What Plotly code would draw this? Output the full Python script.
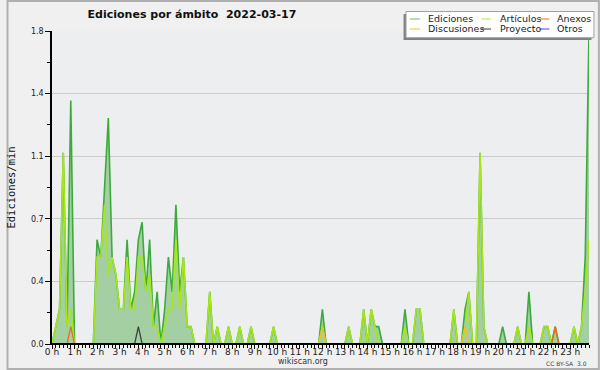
import numpy as np
import plotly.graph_objects as go

# ---------------- data (edits per minute, 10-minute slots, 0:00 .. 23:50) ----------------
hour_labels = [f"{h} h" for h in range(24)]

ediciones = [
    0, 0.1, 0.2, 1.1, 0.1, 1.4, 0, 0, 0, 0, 0, 0,
    0.6, 0.5, 0.9, 1.3, 0.5, 0.4, 0.2, 0.2, 0.6, 0.2, 0.3, 0.6,
    0.7, 0.3, 0.6, 0.1, 0.3, 0, 0.2, 0.5, 0.3, 0.8, 0.3, 0.5,
    0.1, 0.1, 0, 0, 0, 0, 0.3, 0, 0.1, 0, 0, 0.1,
    0, 0, 0.1, 0, 0, 0.1, 0, 0, 0, 0, 0, 0.1,
    0, 0, 0, 0, 0, 0, 0, 0, 0, 0, 0, 0,
    0.2, 0, 0, 0, 0, 0, 0, 0.1, 0, 0, 0, 0.2,
    0, 0.2, 0.1, 0.1, 0, 0, 0, 0, 0, 0, 0.2, 0,
    0, 0.2, 0.2, 0, 0, 0, 0, 0, 0, 0, 0, 0.2,
    0, 0, 0.2, 0.3, 0, 0, 1.1, 0.1, 0, 0, 0, 0,
    0.1, 0, 0, 0, 0.1, 0, 0, 0.3, 0, 0, 0, 0.1,
    0.1, 0, 0.1, 0, 0, 0, 0, 0.1, 0, 0.1, 0.5, 1.8,
]
articulos = [
    0, 0.1, 0.2, 1.1, 0.1, 0.2, 0, 0, 0, 0, 0, 0,
    0.5, 0.5, 0.8, 0.4, 0.5, 0.4, 0.2, 0.2, 0.5, 0.2, 0.2, 0.5,
    0.5, 0.3, 0.4, 0.1, 0.1, 0, 0.1, 0.2, 0.2, 0.6, 0.2, 0.5,
    0.1, 0.1, 0, 0, 0, 0, 0.3, 0, 0.1, 0, 0, 0.1,
    0, 0, 0.1, 0, 0, 0.1, 0, 0, 0, 0, 0, 0.1,
    0, 0, 0, 0, 0, 0, 0, 0, 0, 0, 0, 0,
    0.1, 0, 0, 0, 0, 0, 0, 0.1, 0, 0, 0, 0.2,
    0, 0.2, 0.1, 0, 0, 0, 0, 0, 0, 0, 0.1, 0,
    0, 0.2, 0.2, 0, 0, 0, 0, 0, 0, 0, 0, 0.2,
    0, 0, 0.1, 0.3, 0, 0, 1.1, 0.1, 0, 0, 0, 0,
    0, 0, 0, 0, 0.1, 0, 0, 0.1, 0, 0, 0, 0.1,
    0.1, 0, 0, 0, 0, 0, 0, 0.1, 0, 0.1, 0.3, 0.6,
]
anexos = [
    0, 0, 0, 0, 0, 0.1, 0, 0, 0, 0, 0, 0,
    0, 0, 0, 0, 0, 0, 0, 0, 0, 0, 0, 0,
    0, 0, 0, 0, 0, 0, 0, 0, 0, 0, 0, 0,
    0, 0, 0, 0, 0, 0, 0, 0, 0, 0, 0, 0,
    0, 0, 0, 0, 0, 0, 0, 0, 0, 0, 0, 0,
    0, 0, 0, 0, 0, 0, 0, 0, 0, 0, 0, 0,
    0, 0, 0, 0, 0, 0, 0, 0, 0, 0, 0, 0,
    0, 0, 0, 0, 0, 0, 0, 0, 0, 0, 0, 0,
    0, 0, 0, 0, 0, 0, 0, 0, 0, 0, 0, 0,
    0, 0, 0, 0, 0, 0, 0, 0, 0, 0, 0, 0,
    0, 0, 0, 0, 0, 0, 0, 0, 0, 0, 0, 0,
    0, 0, 0.1, 0, 0, 0, 0, 0, 0, 0, 0, 0,
]
discusiones = [
    0, 0, 0, 0, 0, 0, 0, 0, 0, 0, 0, 0,
    0, 0, 0, 0, 0, 0, 0, 0, 0, 0, 0, 0,
    0, 0, 0, 0, 0, 0, 0, 0, 0, 0, 0, 0,
    0, 0, 0, 0, 0, 0, 0, 0, 0, 0, 0, 0,
    0, 0, 0, 0, 0, 0, 0, 0, 0, 0, 0, 0,
    0, 0, 0, 0, 0, 0, 0, 0, 0, 0, 0, 0,
    0.1, 0, 0, 0, 0, 0, 0, 0, 0, 0, 0, 0,
    0, 0, 0, 0, 0, 0, 0, 0, 0, 0, 0, 0,
    0, 0, 0, 0, 0, 0, 0, 0, 0, 0, 0, 0,
    0, 0, 0.1, 0, 0, 0, 0, 0, 0, 0, 0, 0,
    0, 0, 0, 0, 0, 0, 0, 0, 0, 0, 0, 0,
    0, 0, 0, 0, 0, 0, 0, 0, 0, 0, 0, 0,
]
proyecto = [
    0, 0, 0, 0, 0, 0, 0, 0, 0, 0, 0, 0,
    0, 0, 0, 0, 0, 0, 0, 0, 0, 0, 0, 0.1,
    0, 0, 0, 0, 0, 0, 0, 0, 0, 0, 0, 0,
    0, 0, 0, 0, 0, 0, 0, 0, 0, 0, 0, 0,
    0, 0, 0, 0, 0, 0, 0, 0, 0, 0, 0, 0,
    0, 0, 0, 0, 0, 0, 0, 0, 0, 0, 0, 0,
    0, 0, 0, 0, 0, 0, 0, 0, 0, 0, 0, 0,
    0, 0, 0, 0, 0, 0, 0, 0, 0, 0, 0, 0,
    0, 0, 0, 0, 0, 0, 0, 0, 0, 0, 0, 0,
    0, 0, 0, 0, 0, 0, 0, 0, 0, 0, 0, 0,
    0, 0, 0, 0, 0, 0, 0, 0, 0, 0, 0, 0,
    0, 0, 0, 0, 0, 0, 0, 0, 0, 0, 0, 0,
]
otros = [0] * 144

y_tick_vals = [0, 0.36, 0.72, 1.08, 1.44, 1.8]
y_tick_text = ["0.0", "0.4", "0.7", "1.1", "1.4", "1.8"]

# ---------------- styling ----------------
FONT = "DejaVu Sans"
col_ed_line, col_ed_fill = "#3cab3c", "#a3cfa3"
col_art = "#a8e61c"
col_anx = "#f06a1e"
col_disc = "#f0c020"
col_proj = "#404040"
col_otros = "#9040e0"
legend_colors = {"Ediciones": "#80cc80", "Discusiones": "#f5cf40", "Artículos": "#c8ee50",
                 "Proyecto": "#555555", "Anexos": "#f08050", "Otros": "#9a50ee"}

W, H = 600, 370
ML, MR, MT, MB = 46, 11, 31, 26
PW, PH = W - ML - MR, H - MT - MB


def px(xp):
    return (xp - ML) / PW


def py(yp):
    return (H - MB - yp) / PH


times = np.arange(len(ediciones)) / 6.0  # hours

fig = go.Figure()
fig.add_trace(go.Scatter(x=times, y=ediciones, name="Ediciones", mode="lines",
                         line=dict(color=col_ed_line, width=1.6), fill="tozeroy",
                         fillcolor=col_ed_fill, showlegend=False))
fig.add_trace(go.Scatter(x=times, y=articulos, name="Artículos", mode="lines",
                         line=dict(color=col_art, width=1.6), showlegend=False))
fig.add_trace(go.Scatter(x=times, y=discusiones, name="Discusiones", mode="lines",
                         line=dict(color=col_disc, width=1.3), showlegend=False))
fig.add_trace(go.Scatter(x=times, y=proyecto, name="Proyecto", mode="lines",
                         line=dict(color=col_proj, width=1.3), showlegend=False))
fig.add_trace(go.Scatter(x=times, y=anexos, name="Anexos", mode="lines",
                         line=dict(color=col_anx, width=1.3), showlegend=False))
fig.add_trace(go.Scatter(x=times, y=otros, name="Otros", mode="lines",
                         line=dict(color=col_otros, width=1.3), showlegend=False))

shapes = []
annotations = []

# outer frame
shapes.append(dict(type="rect", xref="paper", yref="paper", x0=px(1), x1=px(599), y0=py(369), y1=py(1),
                   line=dict(color="#b0b0b0", width=2), fillcolor="rgba(0,0,0,0)", layer="above"))
# baseline (x axis line, covers zero-value segments)
shapes.append(dict(type="line", xref="paper", yref="paper", x0=0, x1=1, y0=0, y1=0,
                   line=dict(color="black", width=2), layer="above"))

# legend box with shadow
shapes.append(dict(type="rect", xref="paper", yref="paper", x0=px(401.5), x1=px(591.5), y0=py(40), y1=py(14),
                   line=dict(width=0), fillcolor="#808080", layer="above"))
shapes.append(dict(type="rect", xref="paper", yref="paper", x0=px(404), x1=px(594), y0=py(37.7), y1=py(11.5),
                   line=dict(color="#a0a0a0", width=1), fillcolor="white", layer="above"))

legend_layout = [("Ediciones", 408, 424, 19), ("Discusiones", 408, 424, 29),
                 ("Artículos", 480, 497, 19), ("Proyecto", 480, 497, 29),
                 ("Anexos", 539, 555, 19), ("Otros", 539, 555, 29)]
for name, lx, tx, ly in legend_layout:
    shapes.append(dict(type="line", xref="paper", yref="paper", x0=px(lx), x1=px(lx + 10),
                       y0=py(ly), y1=py(ly), line=dict(color=legend_colors[name], width=1.2), layer="above"))
    annotations.append(dict(text=name, xref="paper", yref="paper", x=px(tx), y=py(ly),
                            xanchor="left", yanchor="middle", showarrow=False,
                            font=dict(family=FONT, size=9.5, color="#222")))

annotations.append(dict(text="wikiscan.org", xref="paper", yref="paper", x=px(300), y=py(361.5),
                        xanchor="center", yanchor="middle", showarrow=False,
                        font=dict(family=FONT, size=8, color="#333")))
annotations.append(dict(text="CC BY-SA  3.0", xref="paper", yref="paper", x=px(589), y=py(363),
                        xanchor="right", yanchor="middle", showarrow=False,
                        font=dict(family=FONT, size=6, color="#444")))

fig.update_layout(
    width=W, height=H,
    margin=dict(l=ML, r=MR, t=MT, b=MB, pad=0),
    paper_bgcolor="#f0f0f0", plot_bgcolor="#eceef0",
    title=dict(text="<b>Ediciones por ámbito\u00a0\u00a02022-03-17</b>", x=px(82), xref="paper",
               xanchor="left", y=1 - 14 / H, yref="container", yanchor="middle",
               font=dict(family=FONT, size=11, color="#111")),
    shapes=shapes, annotations=annotations,
    showlegend=False,
    xaxis=dict(range=[0, times[-1]], tickmode="array", tickvals=list(range(24)), ticktext=hour_labels,
               ticks="outside", ticklen=4, tickcolor="black", tickwidth=1,
               showline=True, linecolor="black", linewidth=1, showgrid=False, zeroline=False,
               tickfont=dict(family=FONT, size=9, color="#222"), ticklabelstandoff=-5,
               minor=dict(tick0=0, dtick=1 / 6, ticks="outside", ticklen=3, tickcolor="black", tickwidth=1)),
    yaxis=dict(range=[0, 1.8], tickmode="array", tickvals=y_tick_vals, ticktext=y_tick_text,
               ticks="outside", ticklen=5, tickcolor="black", tickwidth=1,
               showline=True, linecolor="black", linewidth=1.5, showgrid=True, gridcolor="#cccccc",
               gridwidth=1, zeroline=False,
               tickfont=dict(family=FONT, size=8, color="#222"),
               title=dict(text="Ediciones/min", standoff=13,
                          font=dict(family="DejaVu Sans Mono", size=10.5, color="#111")),
               minor=dict(tick0=0, dtick=0.18, ticks="outside", ticklen=3, tickcolor="black", tickwidth=1)),
)

fig.write_html("out.html", config={"displayModeBar": False},
               post_script="document.body.style.margin='0';document.body.style.overflow='hidden';")
